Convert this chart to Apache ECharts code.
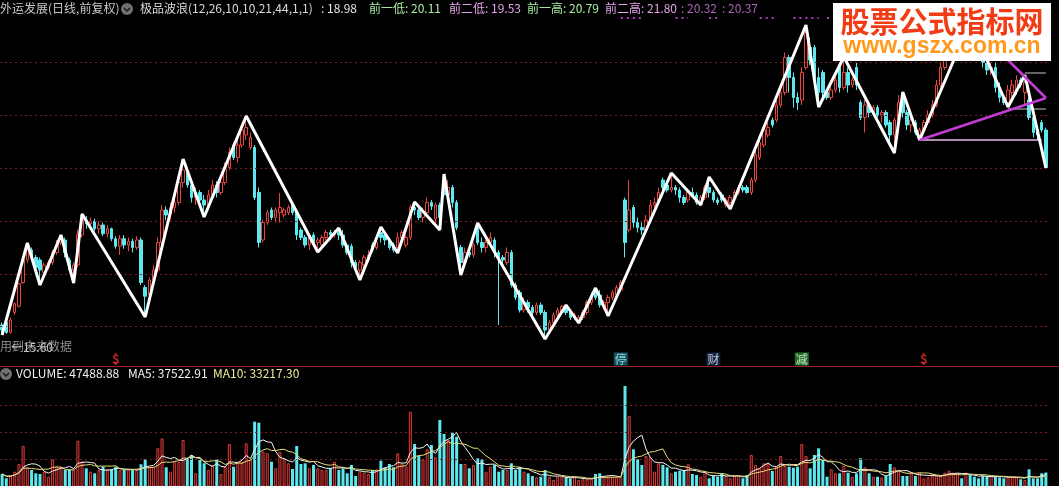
<!DOCTYPE html>
<html><head><meta charset="utf-8">
<script src="https://cdn.jsdelivr.net/npm/echarts@6/dist/echarts.min.js"></script>
<style>html,body{margin:0;padding:0;background:#000;overflow:hidden}#c{width:1059px;height:486px}</style>
</head><body><div id="c"></div>
<script>
// ---- DATA ----
// candles: [open, close, low, high]
const candles = [
[12.70,12.50,12.30,12.80],[12.80,12.40,12.35,12.85],[12.40,12.90,12.35,13.00],[13.20,13.55,13.10,13.60],[13.45,14.35,13.40,14.40],
[14.40,15.30,14.35,15.40],[15.30,15.70,15.20,15.98],[15.70,15.40,15.30,15.80],[15.40,15.00,14.90,15.50],[15.30,14.90,14.30,15.40],
[14.80,15.10,14.70,15.20],[15.00,15.20,14.90,15.30],[15.20,15.60,15.10,15.70],[15.60,15.90,15.50,16.10],[16.00,16.20,15.90,16.30],
[16.10,15.60,15.40,16.20],[15.30,14.90,14.80,15.40],[14.90,15.10,14.38,15.20],[15.10,16.30,15.00,16.50],[16.30,16.90,16.20,17.14],
[16.90,16.75,16.55,17.05],[16.75,16.85,16.60,17.00],[16.85,16.55,16.45,16.95],[16.55,16.70,16.35,16.85],[16.70,16.35,16.25,16.80],
[16.35,16.55,16.20,16.70],[16.55,16.15,16.05,16.60],[16.15,15.85,15.75,16.25],[15.85,16.15,15.50,16.30],[16.15,15.90,15.75,16.30],
[15.90,16.05,15.65,16.20],[16.05,15.80,15.60,16.15],[15.80,16.10,15.70,16.25],[16.10,14.40,14.30,16.20],[14.20,13.85,13.02,14.30],
[13.90,14.50,13.80,14.60],[14.50,14.90,14.40,15.10],[14.90,16.00,14.80,16.20],[16.00,17.30,15.90,17.50],[17.30,17.10,16.90,17.45],
[17.10,17.40,16.90,17.60],[17.40,17.60,17.20,17.80],[17.60,18.40,17.50,18.60],[18.40,18.90,18.20,19.34],[18.80,18.30,18.20,19.00],
[18.30,17.80,17.60,18.50],[17.80,18.00,17.50,18.20],[18.00,17.70,17.40,18.10],[17.70,17.50,17.02,17.90],[17.50,17.90,17.30,18.10],
[17.90,18.30,17.80,18.50],[18.30,18.00,17.80,18.45],[18.00,18.40,17.90,18.60],[18.40,19.00,18.30,19.20],[19.00,19.60,18.90,19.80],
[19.90,19.40,19.30,20.00],[19.40,19.90,19.20,20.10],[19.90,20.50,19.80,20.70],[20.30,20.60,20.10,21.06],[19.80,20.20,19.70,20.40],
[19.80,17.80,17.70,19.90],[18.00,16.00,15.80,18.20],[16.10,16.80,16.00,16.90],[16.80,17.20,16.70,17.30],[17.30,17.00,16.90,17.40],
[17.00,17.30,16.80,17.40],[17.20,17.40,16.80,17.98],[17.10,17.30,17.00,17.40],[17.20,17.40,17.10,17.50],[17.50,17.20,17.10,17.55],
[17.20,16.30,16.10,17.30],[16.50,16.20,16.10,16.60],[16.20,15.90,15.80,16.30],[15.90,16.20,15.70,16.30],[16.30,16.00,15.90,16.40],
[16.00,16.10,15.62,16.20],[15.90,16.20,15.80,16.30],[16.20,16.40,16.10,16.50],[16.40,16.30,16.10,16.50],[16.30,16.40,16.20,16.50],
[16.40,16.30,16.10,16.58],[16.30,15.90,15.80,16.50],[15.90,15.60,15.50,16.00],[15.85,15.20,15.00,15.95],[15.20,15.00,14.80,15.30],
[14.90,15.20,14.50,15.30],[15.10,15.40,15.00,15.50],[15.30,15.50,15.20,15.70],[15.90,15.70,15.60,16.00],[15.80,16.00,15.70,16.20],
[16.40,16.20,16.00,16.62],[16.30,16.10,15.90,16.40],[16.10,15.80,15.70,16.20],[15.90,15.70,15.60,16.00],[15.80,16.20,15.58,16.40],
[16.20,16.40,16.00,16.50],[15.90,16.20,15.80,16.30],[16.20,17.40,16.10,17.50],[17.40,17.30,17.10,17.62],[17.30,17.00,16.90,17.40],
[17.00,17.20,16.80,17.40],[17.20,17.60,17.10,17.80],[17.60,17.45,17.30,17.70],[16.95,17.50,16.70,17.60],[17.50,17.00,16.50,17.60],
[18.50,17.90,17.80,18.74],[17.90,18.20,17.80,18.50],[18.20,17.60,17.40,18.30],[17.60,16.60,16.50,17.70],[15.80,15.20,14.70,15.90],
[15.20,15.60,15.10,15.80],[15.60,15.50,15.40,15.80],[15.50,15.90,15.40,16.00],[16.60,16.00,15.90,16.78],[16.00,15.80,15.60,16.20],
[15.80,16.00,15.60,16.10],[16.00,16.20,15.90,16.40],[16.10,15.60,15.40,16.20],[15.60,15.40,12.70,15.70],[15.40,15.30,15.10,15.50],
[15.20,15.60,15.10,15.80],[15.60,14.30,14.20,15.70],[14.30,13.80,13.70,14.40],[14.00,13.30,13.20,14.10],[13.30,13.60,13.20,13.80],
[13.60,13.40,13.20,13.70],[13.40,13.20,13.10,13.50],[13.20,13.50,13.10,13.60],[13.50,13.20,13.10,13.60],[13.20,12.50,12.14,13.30],
[12.50,12.80,12.40,12.90],[12.80,13.10,12.70,13.20],[13.10,13.30,13.00,13.40],[13.20,13.45,13.10,13.50],[13.40,13.20,13.10,13.50],
[13.20,13.00,12.90,13.30],[13.00,13.10,12.90,13.20],[12.90,13.00,12.78,13.10],[13.00,13.20,12.90,13.30],[13.20,13.60,13.10,13.70],
[13.60,13.90,13.50,14.00],[14.10,13.80,13.70,14.18],[13.90,13.50,13.40,14.10],[13.40,13.60,13.30,13.70],[13.60,13.80,13.06,13.90],
[13.80,14.00,13.70,14.10],[13.90,14.20,13.80,14.30],[14.10,14.40,14.00,14.50],[17.70,16.00,15.40,17.80],[16.50,17.30,16.40,18.50],
[17.40,16.80,16.60,17.50],[16.80,16.60,16.40,17.00],[16.60,16.50,16.30,16.80],[16.50,16.90,16.40,17.10],[16.90,17.50,16.80,17.70],
[17.50,17.60,17.30,17.80],[17.60,18.00,17.50,18.20],[18.50,18.20,18.10,18.60],[18.30,18.10,18.00,18.50],[18.10,18.20,18.00,18.78],
[18.20,18.10,17.90,18.30],[18.10,17.80,17.60,18.20],[17.80,17.60,17.50,17.90],[17.70,18.00,17.60,18.10],[18.00,17.90,17.80,18.20],
[17.90,17.60,17.50,18.00],[17.60,17.80,17.50,17.90],[17.80,18.20,17.70,18.30],[18.20,18.00,17.80,18.62],[18.00,17.70,17.60,18.10],
[17.70,17.60,17.50,17.80],[17.90,17.70,17.60,18.00],[17.50,17.70,17.40,17.80],[17.60,17.80,17.34,17.90],[17.80,18.00,17.70,18.10],
[18.00,18.20,17.90,18.30],[18.20,18.10,18.00,18.30],[18.20,18.00,17.95,18.30],[18.00,18.50,17.90,18.60],[18.50,19.50,18.40,19.70],
[19.40,20.00,19.30,20.20],[19.90,20.50,19.80,20.70],[20.30,20.60,20.20,20.80],[20.90,20.70,20.60,21.00],[20.90,21.50,20.80,21.70],
[21.50,22.00,21.40,22.20],[22.00,23.40,21.90,23.60],[23.40,22.60,22.00,23.50],[22.60,21.80,21.40,22.80],[21.80,21.60,21.30,22.00],
[21.70,22.80,21.50,23.00],[23.00,24.40,22.90,24.70],[23.80,23.30,23.10,24.20],[23.80,22.60,22.40,23.90],[22.60,22.00,21.42,23.00],
[22.80,22.00,21.80,22.90],[22.00,21.80,21.70,22.10],[21.80,22.10,21.70,22.30],[22.10,22.50,22.00,22.70],[23.10,22.20,22.00,23.20],
[22.20,22.80,22.10,23.42],[22.80,22.30,22.00,23.00],[22.30,22.50,22.20,22.60],[23.00,22.30,22.10,23.20],[21.60,21.00,20.90,21.70],
[21.00,21.50,20.40,21.70],[21.50,21.20,21.00,21.60],[21.20,21.40,21.10,21.50],[21.40,21.10,21.00,21.50],[21.10,21.20,20.80,21.30],
[21.20,20.70,20.60,21.30],[20.80,20.30,20.00,20.90],[20.30,20.90,19.58,21.00],[20.90,21.60,20.80,21.90],[21.80,21.20,21.00,22.02],
[21.20,20.70,20.50,21.30],[20.70,20.90,20.40,21.00],[20.80,20.40,20.30,20.90],[20.30,20.50,20.10,20.60],[20.50,20.80,20.40,20.90],
[20.80,21.10,20.70,21.30],[21.10,21.50,21.00,21.70],[21.50,22.30,21.40,22.50],[22.30,23.00,22.20,23.20],[23.00,23.40,22.90,23.60],
[23.40,23.70,23.30,23.90],[23.70,24.00,23.50,24.20],[24.00,24.30,23.80,24.50],[24.30,24.10,23.90,24.50],[24.10,24.50,24.00,24.70],
[24.50,24.30,24.10,24.82],[24.30,23.80,23.60,24.40],[23.80,23.50,23.30,24.00],[23.50,23.20,23.00,23.70],[23.20,22.90,22.70,23.40],
[22.90,23.00,22.70,23.20],[23.00,22.20,22.00,23.20],[22.20,21.80,21.60,22.40],[21.80,21.60,21.50,21.90],[21.60,22.10,21.42,22.30],
[22.00,22.30,21.80,22.50],[22.10,22.50,21.90,22.70],[22.50,22.30,22.20,22.60],[22.00,22.40,21.50,22.70],[21.70,21.00,20.90,21.80],
[21.00,20.40,20.20,21.10],[20.40,20.30,20.10,20.50],[20.80,20.50,20.40,20.90],[20.50,19.00,18.98,20.60]
];
const volumes = [
46000,
41700,44000,48300,56000,74000,52700,50000,46700,46000,48300,
43300,60700,53300,53300,50000,50700,50000,79300,58300,51700,
48300,46700,50000,53300,50700,50700,53300,50000,50000,50000,
50000,50000,55700,60700,53300,53300,71700,81700,52700,48300,
58300,58300,80000,61700,65000,46700,60000,56700,50000,55000,
60700,46000,53300,76000,53300,58300,58300,76700,60000,98300,
97300,68300,66700,58300,51700,68300,61700,56700,51000,74000,
56000,56700,51700,55000,51700,50000,50000,51700,58300,50000,
51700,46700,55000,44000,48300,47300,46000,50000,50700,59300,
52700,56000,52700,66700,56700,53300,108300,76000,64000,60700,
70700,75000,62700,100000,86000,80000,87300,83300,56000,56000,
51700,55000,61700,60700,48300,53300,55000,48300,50000,50000,
56700,50000,53300,
48300,46700,
44000,42700,43300,50000,43300,40000,43300,43300,42700,41700,
42700,40000,40700,40700,41700,46000,46700,43300,43300,43300,
42700,42700,134000,104000,70700,60700,55000,64000,62700,48300,
56700,55000,52700,46700,48300,49300,50000,55700,46000,45000,
43300,48300,41700,44000,43300,46700,44000,41700,44000,44000,
41700,45000,65000,55000,51700,56700,56700,49000,53300,64000,
54000,53300,52300,53300,76000,64000,51700,65000,71700,60000,
43300,50700,46700,46700,54000,47300,43300,46700,61700,52700,
46700,43300,43300,42700,44000,56000,52700,50000,44000,44000,
47300,44000,47300,41700,42700,46000,44000,44000,47300,49300,
47300,46700,41700,47300,45000,43300,41700,44000,44000,44000,
43300,42700,41700,42700,43300,42700,40700,40000,50700,41700,
41700,46700,
47488.88
];
// wave (zigzag) turning points: [candle index, price]
const wavePoints = [
[0,12.30],[6,15.98],[9,14.30],[14,16.30],[17,14.38],[19,17.14],[34,13.02],[43,19.34],[48,17.02],[58,21.06],
[75,15.62],[80,16.58],[85,14.50],[90,16.62],[94,15.58],[98,17.62],[104,16.50],[105,18.74],[109,14.70],[113,16.78],
[129,12.14],[134,13.50],[137,12.78],[141,14.18],[144,13.06],[159,18.78],[166,17.50],[168,18.62],[173,17.34],[191,24.70],
[194,21.42],[200,23.42],[212,19.58],[214,22.02],[218,20.10],[230,24.82],[239,21.42],[243,22.70],[248,18.98]
];
const triangleLower = [[218,20.10],[248,21.78]];
const triangleUpper = [[230,24.82],[248,21.78]];
const lowLevelLine = [[218,20.10],[247,20.10]];
const shortLevel1 = [[243,22.78],[248,22.78]];
const shortLevel2 = [[239,21.34],[248,21.34]];
const topDotRanges = [[147,152],[160,163],[168,170],[180,184],[188,194],[196,197]];
const topDotLevel = 24.98;
const priceGridLevels = [23.22,21.10,18.98,16.86,14.74,12.66];
const volGridLevels = [61000,88000,115000];
const markerIdx = [27,147,169,190,219];
const markerText = ['$','停','财','减','$'];
const markerLevel = 11.34;

// ---- BUILD ----
const N = candles.length;
const dayIndex = candles.map((_, i) => String(i));
const RED = '#e8453e', VRED = '#d83c3c', CYAN = '#5ce8ee', GRID = '#7a2020';
const FONT = '"Noto Sans CJK SC","Noto Sans",sans-serif';
function ma(arr, n) {
  return arr.map((v, i) => {
    const s = arr.slice(Math.max(0, i - n + 1), i + 1);
    return s.reduce((a, b) => a + b, 0) / s.length;
  });
}
const topDots = dayIndex.map(() => null);
topDotRanges.forEach(([a, b]) => { for (let i = a; i <= b; i++) topDots[i] = topDotLevel; });
const volData = volumes.map((v, i) => {
  const up = candles[i][1] >= candles[i][0];
  return { value: v, itemStyle: up ? { color: '#2a0000', borderColor: VRED, borderWidth: 1 } : { color: CYAN, borderColor: CYAN, borderWidth: 0 } };
});
const markerStyles = {
  '$': { color: '#ff2a2a', fontWeight: 'bold', fontSize: 13, backgroundColor: 'transparent' },
  '停': { color: '#a8f4ff', backgroundColor: '#1d6470' },
  '财': { color: '#e8f0ff', backgroundColor: '#1c2b4c' },
  '减': { color: '#e0ffe0', backgroundColor: '#2f8a36' }
};
const markerData = markerIdx.map((ix, k) => ({
  value: [ix, markerLevel],
  label: Object.assign({ show: true, formatter: markerText[k], fontSize: 12, fontFamily: FONT, padding: [1, 1, 0, 1], position: 'inside' }, markerStyles[markerText[k]])
}));
const lineSeries = (data, color, width, type, z) => ({
  type: 'line', xAxisIndex: 0, yAxisIndex: 0, data, symbol: 'none', silent: true, z: z || 5,
  lineStyle: { color, width, type: type || 'solid' }, connectNulls: false
});

const chart = echarts.init(document.getElementById('c'), null, { renderer: 'canvas' });
chart.setOption({
  backgroundColor: '#000',
  animation: false,
  grid: [
    { left: 0, right: 11, top: 0, height: 366 },
    { left: 0, right: 11, top: 367, bottom: 0 }
  ],
  xAxis: [
    { type: 'category', data: dayIndex, gridIndex: 0, show: false, boundaryGap: true },
    { type: 'category', data: dayIndex, gridIndex: 1, show: false, boundaryGap: true }
  ],
  yAxis: [
    { type: 'value', gridIndex: 0, min: 11.06, max: 25.70, show: false, splitLine: { show: false } },
    { type: 'value', gridIndex: 1, min: 34000, max: 153000, show: false, splitLine: { show: false } }
  ],
  series: [
    {
      type: 'candlestick', xAxisIndex: 0, yAxisIndex: 0, data: candles, barWidth: 3, z: 3,
      itemStyle: { color: '#000', color0: CYAN, borderColor: RED, borderColor0: CYAN, borderWidth: 1 },
      markLine: {
        silent: true, symbol: 'none', label: { show: false },
        lineStyle: { color: GRID, width: 1, type: [2, 3] },
        data: priceGridLevels.map(v => ({ yAxis: v }))
      }
    },
    lineSeries(topDots, '#b23cc8', 2, [2, 4], 6),
    lineSeries(wavePoints, '#ffffff', 3, 'solid', 8),
    lineSeries(lowLevelLine, '#e6b8ee', 1.5, 'solid', 7),
    lineSeries(shortLevel1, '#c8c8c8', 1, 'solid', 7),
    lineSeries(shortLevel2, '#c8c8c8', 1, 'solid', 7),
    lineSeries(triangleLower, '#c43cd6', 2.5, 'solid', 9),
    lineSeries(triangleUpper, '#c43cd6', 2.5, 'solid', 9),
    {
      type: 'scatter', xAxisIndex: 0, yAxisIndex: 0, data: markerData, symbolSize: 1,
      itemStyle: { color: 'rgba(0,0,0,0)' }, silent: true, z: 10
    },
    {
      type: 'bar', xAxisIndex: 1, yAxisIndex: 1, data: volData, barWidth: 3, z: 3, clip: true,
      markLine: {
        silent: true, symbol: 'none', label: { show: false },
        lineStyle: { color: GRID, width: 1, type: [2, 3] },
        data: volGridLevels.map(v => ({ yAxis: v }))
      }
    },
    { type: 'line', xAxisIndex: 1, yAxisIndex: 1, data: ma(volumes, 5), symbol: 'none', silent: true, z: 5, lineStyle: { color: '#f4f4f4', width: 1 } },
    { type: 'line', xAxisIndex: 1, yAxisIndex: 1, data: ma(volumes, 10), symbol: 'none', silent: true, z: 5, lineStyle: { color: '#e6dc78', width: 1 } }
  ],
  graphic: [
    { type: 'line', shape: { x1: 0, y1: 366.5, x2: 1059, y2: 366.5 }, style: { stroke: '#9a2222', lineWidth: 1 }, z: 20 },
    { type: 'text', x: 0, y: 2, style: { text: '外运发展(日线,前复权)', fill: '#c8c8c8', font: '12px ' + FONT }, z: 20 },
    { type: 'circle', shape: { cx: 127, cy: 9, r: 6 }, style: { fill: '#707070' }, z: 20 },
    { type: 'polyline', shape: { points: [[124, 8], [127, 11], [130, 8]] }, style: { stroke: '#1a1a1a', lineWidth: 1.5, fill: null }, z: 21 },
    { type: 'text', x: 140, y: 2, style: { text: '极品波浪(12,26,10,10,21,44,1,1)', fill: '#d8d8d8', font: '12px ' + FONT }, z: 20 },
    { type: 'text', x: 321, y: 2, style: { text: ': 18.98', fill: '#e8e8e8', font: '12px ' + FONT }, z: 20 },
    { type: 'text', x: 369, y: 2, style: { text: '前一低: 20.11', fill: '#a6eda0', font: '12px ' + FONT }, z: 20 },
    { type: 'text', x: 449, y: 2, style: { text: '前二低: 19.53', fill: '#e6a2ea', font: '12px ' + FONT }, z: 20 },
    { type: 'text', x: 527, y: 2, style: { text: '前一高: 20.79', fill: '#a6eda0', font: '12px ' + FONT }, z: 20 },
    { type: 'text', x: 605, y: 2, style: { text: '前二高: 21.80', fill: '#e6a2ea', font: '12px ' + FONT }, z: 20 },
    { type: 'text', x: 681, y: 2, style: { text: ': 20.32', fill: '#a866b8', font: '12px ' + FONT }, z: 20 },
    { type: 'text', x: 722, y: 2, style: { text: ': 20.37', fill: '#a866b8', font: '12px ' + FONT }, z: 20 },
    { type: 'text', x: 0, y: 340, style: { text: '用到未来数据', fill: '#8c8c8c', font: '12px ' + FONT }, z: 20 },
    { type: 'text', x: 11, y: 341, style: { text: '←15.60', fill: '#c4c4c4', font: '12px ' + FONT }, z: 21 },
    { type: 'circle', shape: { cx: 6, cy: 374, r: 6 }, style: { fill: '#707070' }, z: 20 },
    { type: 'polyline', shape: { points: [[3, 373], [6, 376], [9, 373]] }, style: { stroke: '#1a1a1a', lineWidth: 1.5, fill: null }, z: 21 },
    { type: 'text', x: 16, y: 367, style: { text: 'VOLUME: 47488.88', fill: '#f0f0f0', font: '12px ' + FONT }, z: 20 },
    { type: 'text', x: 128, y: 367, style: { text: 'MA5: 37522.91', fill: '#f0f0f0', font: '12px ' + FONT }, z: 20 },
    { type: 'text', x: 213, y: 367, style: { text: 'MA10: 33217.30', fill: '#ecec9c', font: '12px ' + FONT }, z: 20 },
    { type: 'rect', shape: { x: 833, y: 3, width: 218, height: 58 }, style: { fill: '#ffffff' }, z: 30 },
    { type: 'text', x: 942, y: 22, style: { text: '股票公式指标网', fill: '#f23c16', font: 'bold 29px ' + FONT, align: 'center', verticalAlign: 'middle' }, z: 31 },
    { type: 'text', x: 942, y: 47, style: { text: 'www.gszx.com.cn', fill: '#ff9a1c', font: 'bold 23px "Liberation Sans",Arial,sans-serif', align: 'center', verticalAlign: 'middle' }, z: 31 }
  ]
});
</script>
</body></html>
